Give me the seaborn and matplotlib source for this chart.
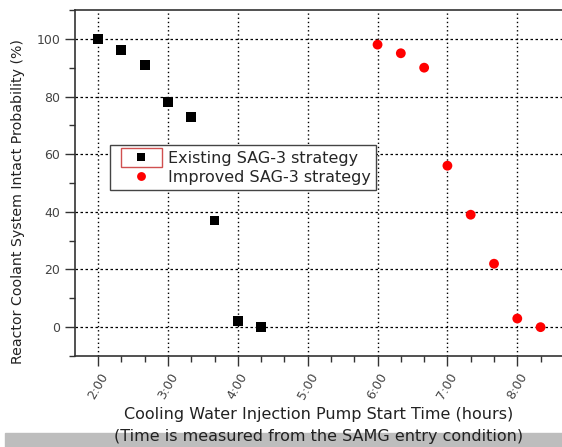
import pandas as pd
import matplotlib.pyplot as plt
import matplotlib.ticker as mticker
import seaborn as sns

# start times in hours, probability in %
existing_time = [2.0, 2.333, 2.667, 3.0, 3.333, 3.667, 4.0, 4.333]
existing_prob = [100, 96, 91, 78, 73, 37, 2, 0]
improved_time = [6.0, 6.333, 6.667, 7.0, 7.333, 7.667, 8.0, 8.333]
improved_prob = [98, 95, 90, 56, 39, 22, 3, 0]

df = pd.DataFrame({
    "time": existing_time + improved_time,
    "prob": existing_prob + improved_prob,
    "strategy": ["Existing SAG-3 strategy"] * len(existing_time)
    + ["Improved SAG-3 strategy"] * len(improved_time),
})

sns.set_style("white")
plt.rcParams['font.family'] = ['DejaVu Sans']

fig = plt.figure(figsize=(5.62, 4.47), dpi=100)
ax = fig.add_axes([0.1335, 0.2036, 0.8665, 0.774])

sns.scatterplot(data=df, x="time", y="prob", hue="strategy", style="strategy",
                palette={"Existing SAG-3 strategy": "black", "Improved SAG-3 strategy": "red"},
                markers={"Existing SAG-3 strategy": "s", "Improved SAG-3 strategy": "o"},
                s=50, linewidth=0, ax=ax, zorder=3)

ax.set_xlim(1.67, 8.64)
ax.set_ylim(-10, 110)
ax.xaxis.set_major_locator(mticker.MultipleLocator(1))
ax.xaxis.set_minor_locator(mticker.MultipleLocator(1 / 3))
ax.xaxis.set_major_formatter(mticker.FuncFormatter(lambda v, p: f"{int(round(v))}:00"))
ax.yaxis.set_major_locator(mticker.MultipleLocator(20))
ax.yaxis.set_minor_locator(mticker.MultipleLocator(10))

ax.grid(True, which="major", axis="x", color="black", linestyle=(0, (1, 2)), linewidth=1)
ax.grid(True, which="major", axis="y", color="black", linestyle=(0, (2, 2)), linewidth=0.9)

ax.spines["right"].set_visible(False)
for side in ["left", "bottom", "top"]:
    ax.spines[side].set_color("#333333")
    ax.spines[side].set_linewidth(1.2)

ax.tick_params(axis="both", which="major", direction="out", length=7, width=1,
               color="#333333", labelsize=9, labelcolor="#444444", bottom=True, left=True)
ax.tick_params(axis="both", which="minor", direction="out", length=4, width=1,
               color="#333333", bottom=True, left=True)
for lab in ax.get_xticklabels():
    lab.set_rotation(60)
    lab.set_ha("center")

ax.set_xlabel("Cooling Water Injection Pump Start Time (hours)\n(Time is measured from the SAMG entry condition)",
              fontsize=11.5, color="#222222", labelpad=4, linespacing=1.55)
ax.set_ylabel("Reactor Coolant System Intact Probability (%)", fontsize=10.2,
              color="#222222")
ax.yaxis.set_label_coords(-0.102, 0.445)

leg = ax.legend(loc="upper left", bbox_to_anchor=(0.072, 0.61), borderaxespad=0,
                fontsize=11.5, frameon=True, fancybox=False, handletextpad=0.05,
                borderpad=0.35, labelspacing=0.25, markerscale=0.9, handlelength=3.2)
leg.get_frame().set_edgecolor("#444444")
leg.get_frame().set_linewidth(1)
leg.get_frame().set_alpha(1)

# red box round the first legend key, as in the source image
fig.patches.append(plt.Rectangle((121 / 562, 1 - 167 / 447), 41 / 562, 19 / 447,
                                 transform=fig.transFigure, fill=False,
                                 edgecolor="#d05050", linewidth=1, zorder=10))

# grey band at the bottom of the picture
fig.patches.append(plt.Rectangle((0.009, 0.0), 0.991, 0.031, transform=fig.transFigure,
                                 color="#bdbdbd", zorder=-1))

fig.savefig("out.png", dpi=100)
